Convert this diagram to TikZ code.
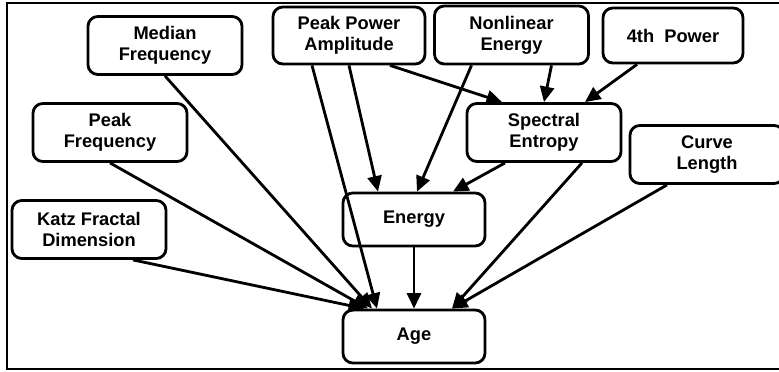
\documentclass[tikz,border=0pt]{standalone}
\usepackage{fontspec}
\setmainfont{Liberation Sans}
\usetikzlibrary{arrows.meta,calc}
\begin{document}
\begin{tikzpicture}[x=0.025cm,y=-0.025cm,
    box/.style={draw,line width=2pt,rounded corners=7pt,align=center,inner sep=0pt,
      minimum width=3.85cm,minimum height=1.45cm,font=\fontsize{13}{15}\selectfont\bfseries},
    link/.style={line width=2pt,-{Triangle[length=11pt,width=10pt]}}]
        \useasboundingbox (0,0) rectangle (779,372);
        \clip (0,0) rectangle (779,372);
        \draw[line width=1.5pt] (7,3) rectangle (800,369);

        \node[box] (MF) at (165,45.5) {Median\\Frequency};
        \node[box,minimum width=3.8cm,minimum height=1.425cm] (PPA) at (349,35.5) {Peak Power\\Amplitude};
        \node[box] (NLE) at (511.5,35) {Nonlinear\\Energy};
        \node[box,minimum width=3.5cm,minimum height=1.375cm] (FP) at (673,35.5) {4th\ \ Power};
        \node[box] (SE) at (544,132.5) {Spectral\\Entropy};
        \node[box] (CL) at (707,154.5) {Curve\\Length};
        \node[box] (PF) at (110,132.5) {Peak\\Frequency};
        \node[box] (KFD) at (89,229.5) {Katz Fractal\\Dimension};
        \node[box,minimum width=3.55cm,minimum height=1.325cm] (E) at (414,219.5) {Energy};
        \node[box,minimum width=3.55cm,minimum height=1.325cm] (A) at (414,336.5) {Age};

        \draw[link] ($(PPA.south)+(41,0)$) -- ($(SE.north)+(-42,0)$);
        \draw[link] ($(NLE.south)+(40,0)$) -- (SE.north);
        \draw[link] ($(FP.south)+(-36,0)$) -- ($(SE.north)+(41,0)$);

        \draw[link] (PPA.south) -- ($(E.north)+(-36,0)$);
        \draw[link] ($(NLE.south)+(-40,0)$) -- ($(E.north)+(3,0)$);
        \draw[link] ($(SE.south)+(-39,0)$) -- ($(E.north)+(39,0)$);

        \draw[link] ($(KFD.south)+(44,0)$) -- ($(A.north)+(-50,0)$);
        \draw[link] (PF.south) -- ($(A.north)+(-46,0)$);
        \draw[link] (MF.south) -- ($(A.north)+(-42,0)$);
        \draw[link] ($(PPA.south)+(-37,0)$) -- ($(A.north)+(-37,0)$);
        \draw[link] (E) -- (A);
        \draw[link] ($(SE.south)+(38,0)$) -- ($(A.north)+(38,0)$);
        \draw[link] ($(CL.south)+(-40,0)$) -- ($(A.north)+(38,0)$);
      \end{tikzpicture}
\end{document}
